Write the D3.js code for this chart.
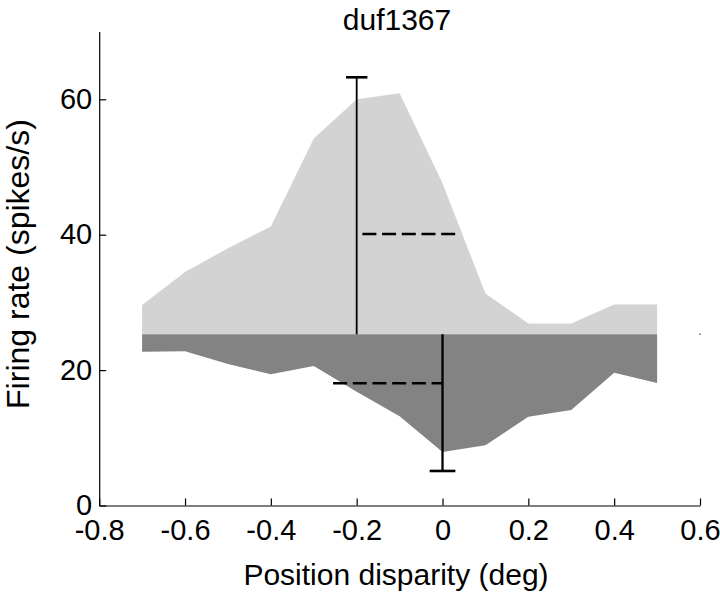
<!DOCTYPE html>
<html>
<head>
<meta charset="utf-8">
<script src="https://cdn.jsdelivr.net/npm/d3@7"></script>
<style>
  body { margin: 0; background: #fff; }
  svg text { font-family: "Liberation Sans", Arial, sans-serif; fill: #000; }
</style>
</head>
<body>
<div id="graph"></div>
<script>
// disparity values (deg)
const disparity = [-0.7, -0.6, -0.5, -0.4, -0.3, -0.2, -0.1, 0, 0.1, 0.2, 0.3, 0.4, 0.5];
// upper (light) and lower (dark) tuning curves, spikes/s
const upperRate = [29.6, 34.5, 38.0, 41.2, 54.2, 60.0, 60.9, 47.6, 31.3, 26.9, 26.9, 29.7, 29.7];
const lowerRate = [22.7, 22.8, 20.9, 19.4, 20.6, 16.8, 13.2, 7.9, 8.9, 13.1, 14.1, 19.6, 18.1];
const baseline = 25.3;

// error bars: [x, top/bottom, cap half width]
const upperErr = { x: -0.2, y: 63.25, cap: 0.025 };
const lowerErr = { x: 0, y: 5.1, cap: 0.03 };
// dashed mean lines
const upperMean = { x0: -0.2, x1: 0.035, y: 40.1 };
const lowerMean = { x0: -0.255, x1: 0, y: 18.05 };

const xTicks = [-0.8, -0.6, -0.4, -0.2, 0, 0.2, 0.4, 0.6];
const xTickLabels = ['-0.8', '-0.6', '-0.4', '-0.2', '0', '0.2', '0.4', '0.6'];
const yTicks = [0, 20, 40, 60];

const width = 720, height = 597;

const svg = d3.select('#graph')
  .append('svg')
  .attr('width', width)
  .attr('height', height);

const x = d3.scaleLinear().domain([-0.8, 0.6]).range([99.2, 700]);
const y = d3.scaleLinear().domain([0, 70]).range([505.5, 31.6]);

const rows = disparity.map((d, i) => ({ x: d, up: upperRate[i], lo: lowerRate[i] }));

var upArea = d3.area()
  .x(d => x(d.x))
  .y0(y(baseline))
  .y1(d => y(d.up));

var loArea = d3.area()
  .x(d => x(d.x))
  .y0(y(baseline))
  .y1(d => y(d.lo));

svg.append('path')
  .datum(rows)
  .attr('d', upArea)
  .attr('fill', '#d3d3d3');

svg.append('path')
  .datum(rows)
  .attr('d', loArea)
  .attr('fill', '#838383');

// stray point at the baseline, right edge
svg.append('rect')
  .attr('x', x(0.6) - 0.7).attr('y', y(baseline) - 0.7)
  .attr('width', 1.4).attr('height', 1.4)
  .attr('fill', '#555');

// error bars
function errBar(e, w) {
  svg.append('line')
    .attr('x1', x(e.x)).attr('x2', x(e.x))
    .attr('y1', y(baseline)).attr('y2', y(e.y))
    .attr('stroke', '#000').attr('stroke-width', w);
  svg.append('line')
    .attr('x1', x(e.x - e.cap)).attr('x2', x(e.x + e.cap))
    .attr('y1', y(e.y)).attr('y2', y(e.y))
    .attr('stroke', '#000').attr('stroke-width', 2.6);
}
errBar(upperErr, 1.8);
errBar(lowerErr, 2.3);

function meanLine(m, offset) {
  svg.append('line')
    .attr('x1', x(m.x0)).attr('x2', x(m.x1))
    .attr('y1', y(m.y)).attr('y2', y(m.y))
    .attr('stroke', '#000').attr('stroke-width', 2.6)
    .attr('stroke-dasharray', '14,5.7')
    .attr('stroke-dashoffset', offset);
}
meanLine(upperMean, 14);
meanLine(lowerMean, 0);

// axes, MATLAB style (ticks inward)
const xAxis = svg.append('g')
  .attr('transform', 'translate(0,' + y(0) + ')')
  .call(d3.axisBottom(x)
    .tickValues(xTicks)
    .tickFormat((d, i) => xTickLabels[i])
    .tickSizeInner(-7).tickSizeOuter(0).tickPadding(14));

const yAxis = svg.append('g')
  .attr('transform', 'translate(' + x(-0.8) + ',0)')
  .call(d3.axisLeft(y)
    .tickValues(yTicks)
    .tickFormat(d3.format('d'))
    .tickSizeInner(-7).tickSizeOuter(0).tickPadding(7));

[xAxis, yAxis].forEach(g => {
  g.selectAll('path, line').attr('stroke', '#000').attr('stroke-width', 1.2);
  g.selectAll('text').style('font-size', '29px').attr('fill', '#000');
  g.attr('font-family', null).attr('font-size', null);
});

svg.append('text')
  .attr('x', 397).attr('y', 30)
  .attr('text-anchor', 'middle')
  .style('font-size', '30px')
  .text('duf1367');

svg.append('text')
  .attr('x', 396).attr('y', 585)
  .attr('text-anchor', 'middle')
  .style('font-size', '30px')
  .text('Position disparity (deg)');

svg.append('text')
  .attr('transform', 'translate(29,264) rotate(-90)')
  .attr('text-anchor', 'middle')
  .style('font-size', '32px')
  .text('Firing rate (spikes/s)');
</script>
</body>
</html>
